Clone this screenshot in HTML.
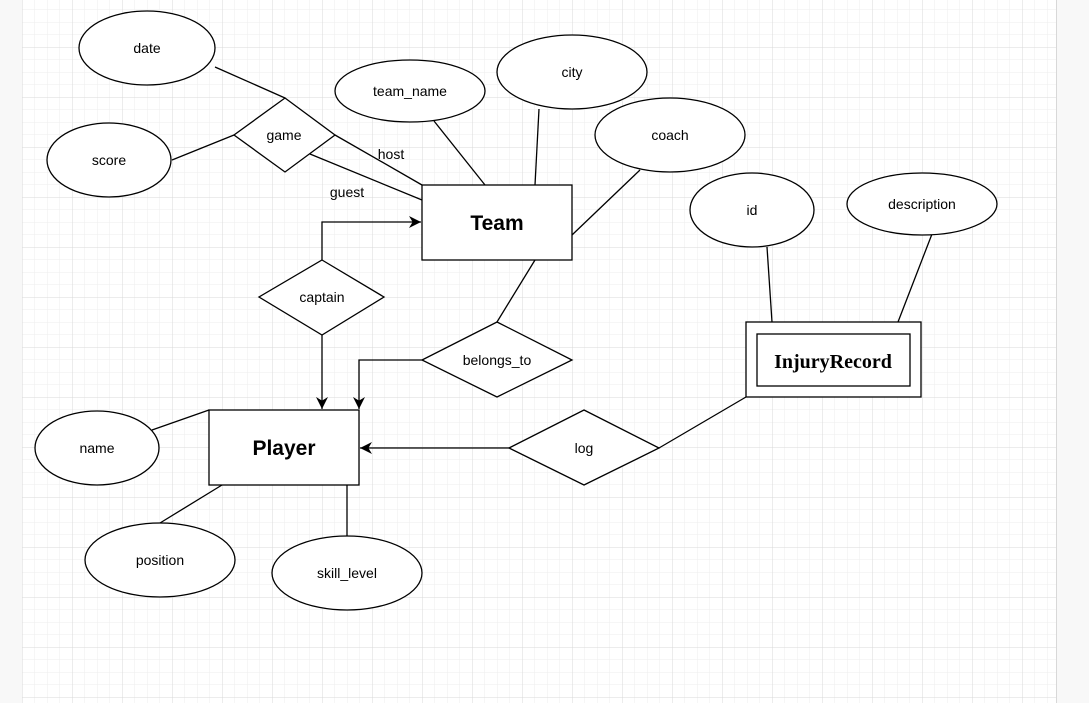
<!DOCTYPE html>
<html><head><meta charset="utf-8"><style>
html,body{margin:0;padding:0;background:#f8f8f8;}
svg{display:block;font-family:"Liberation Sans",Arial,sans-serif;}
</style></head><body>
<svg width="1089" height="703" viewBox="0 0 1089 703" xmlns="http://www.w3.org/2000/svg">
<defs>
<pattern id="minor" x="22" y="-3" width="12.5" height="12.5" patternUnits="userSpaceOnUse">
<path d="M0 0H12.5M0 0V12.5" stroke="#eeeeee" stroke-width="1" fill="none"/>
</pattern>
<pattern id="major" x="22" y="47" width="50" height="50" patternUnits="userSpaceOnUse">
<path d="M0 0H50M0 0V50" stroke="#d9d9d9" stroke-width="1" fill="none"/>
</pattern>
<marker id="ar" viewBox="0 0 10 10" refX="10" refY="5" markerWidth="12" markerHeight="12" markerUnits="userSpaceOnUse" orient="auto">
<path d="M0 0L10 5L0 10L3 5Z" fill="#000"/>
</marker>
</defs>
<rect x="22" y="0" width="1034" height="703" fill="#fff"/>
<rect x="22" y="0" width="1034" height="703" fill="url(#minor)"/>
<rect x="22" y="0" width="1034" height="703" fill="url(#major)"/>
<line x1="1056.5" y1="0" x2="1056.5" y2="703" stroke="#d8d8d8"/>

<g stroke="#000" stroke-width="1.3" fill="none">
<line x1="215" y1="67" x2="285" y2="98"/>
<line x1="172" y1="160" x2="234" y2="135"/>
<line x1="335" y1="135" x2="422" y2="185"/>
<line x1="310" y1="154" x2="422" y2="200"/>
<line x1="434" y1="121" x2="485" y2="185"/>
<line x1="539" y1="109" x2="535" y2="185"/>
<line x1="640" y1="170" x2="572" y2="235"/>
<polyline points="322,260 322,222 421,222" marker-end="url(#ar)"/>
<line x1="322" y1="335" x2="322" y2="409" marker-end="url(#ar)"/>
<line x1="535" y1="260" x2="497" y2="322"/>
<polyline points="422,360 359,360 359,409" marker-end="url(#ar)"/>
<line x1="509" y1="448" x2="360" y2="448" marker-end="url(#ar)"/>
<line x1="659" y1="448" x2="746" y2="397"/>
<line x1="767" y1="247" x2="772" y2="322"/>
<line x1="932" y1="234" x2="898" y2="322"/>
<line x1="152" y1="430" x2="209" y2="410"/>
<line x1="160" y1="523" x2="222" y2="485"/>
<line x1="347" y1="536" x2="347" y2="485"/>
</g>

<g stroke="#000" stroke-width="1.3" fill="#fff">
<ellipse cx="147" cy="48" rx="68" ry="37"/>
<ellipse cx="109" cy="160" rx="62" ry="37"/>
<ellipse cx="410" cy="91" rx="75" ry="31"/>
<ellipse cx="572" cy="72" rx="75" ry="37"/>
<ellipse cx="670" cy="135" rx="75" ry="37"/>
<ellipse cx="752" cy="210" rx="62" ry="37"/>
<ellipse cx="922" cy="204" rx="75" ry="31"/>
<ellipse cx="97" cy="448" rx="62" ry="37"/>
<ellipse cx="160" cy="560" rx="75" ry="37"/>
<ellipse cx="347" cy="573" rx="75" ry="37"/>
<polygon points="285,98 335,135 285,172 234,135"/>
<polygon points="322,260 384,297 322,335 259,297"/>
<polygon points="497,322 572,360 497,397 422,360"/>
<polygon points="584,410 659,448 584,485 509,448"/>
<rect x="422" y="185" width="150" height="75"/>
<rect x="209" y="410" width="150" height="75"/>
<rect x="746" y="322" width="175" height="75"/>
<rect x="757" y="334" width="153" height="52"/>
</g>

<g font-size="14" text-anchor="middle" fill="#000">
<text x="147" y="53">date</text>
<text x="109" y="165">score</text>
<text x="410" y="96">team_name</text>
<text x="572" y="77">city</text>
<text x="670" y="140">coach</text>
<text x="752" y="215">id</text>
<text x="922" y="209">description</text>
<text x="97" y="453">name</text>
<text x="160" y="565">position</text>
<text x="347" y="578">skill_level</text>
<text x="284" y="140">game</text>
<text x="322" y="302">captain</text>
<text x="497" y="365">belongs_to</text>
<text x="584" y="453">log</text>
<text x="391" y="159">host</text>
<text x="347" y="197">guest</text>
<text x="497" y="230" font-size="21" font-weight="bold">Team</text>
<text x="284" y="455" font-size="21" font-weight="bold">Player</text>
<text x="833" y="368" font-size="20" font-weight="bold" font-family="'Liberation Serif',serif">InjuryRecord</text>
</g>
</svg>
</body></html>
